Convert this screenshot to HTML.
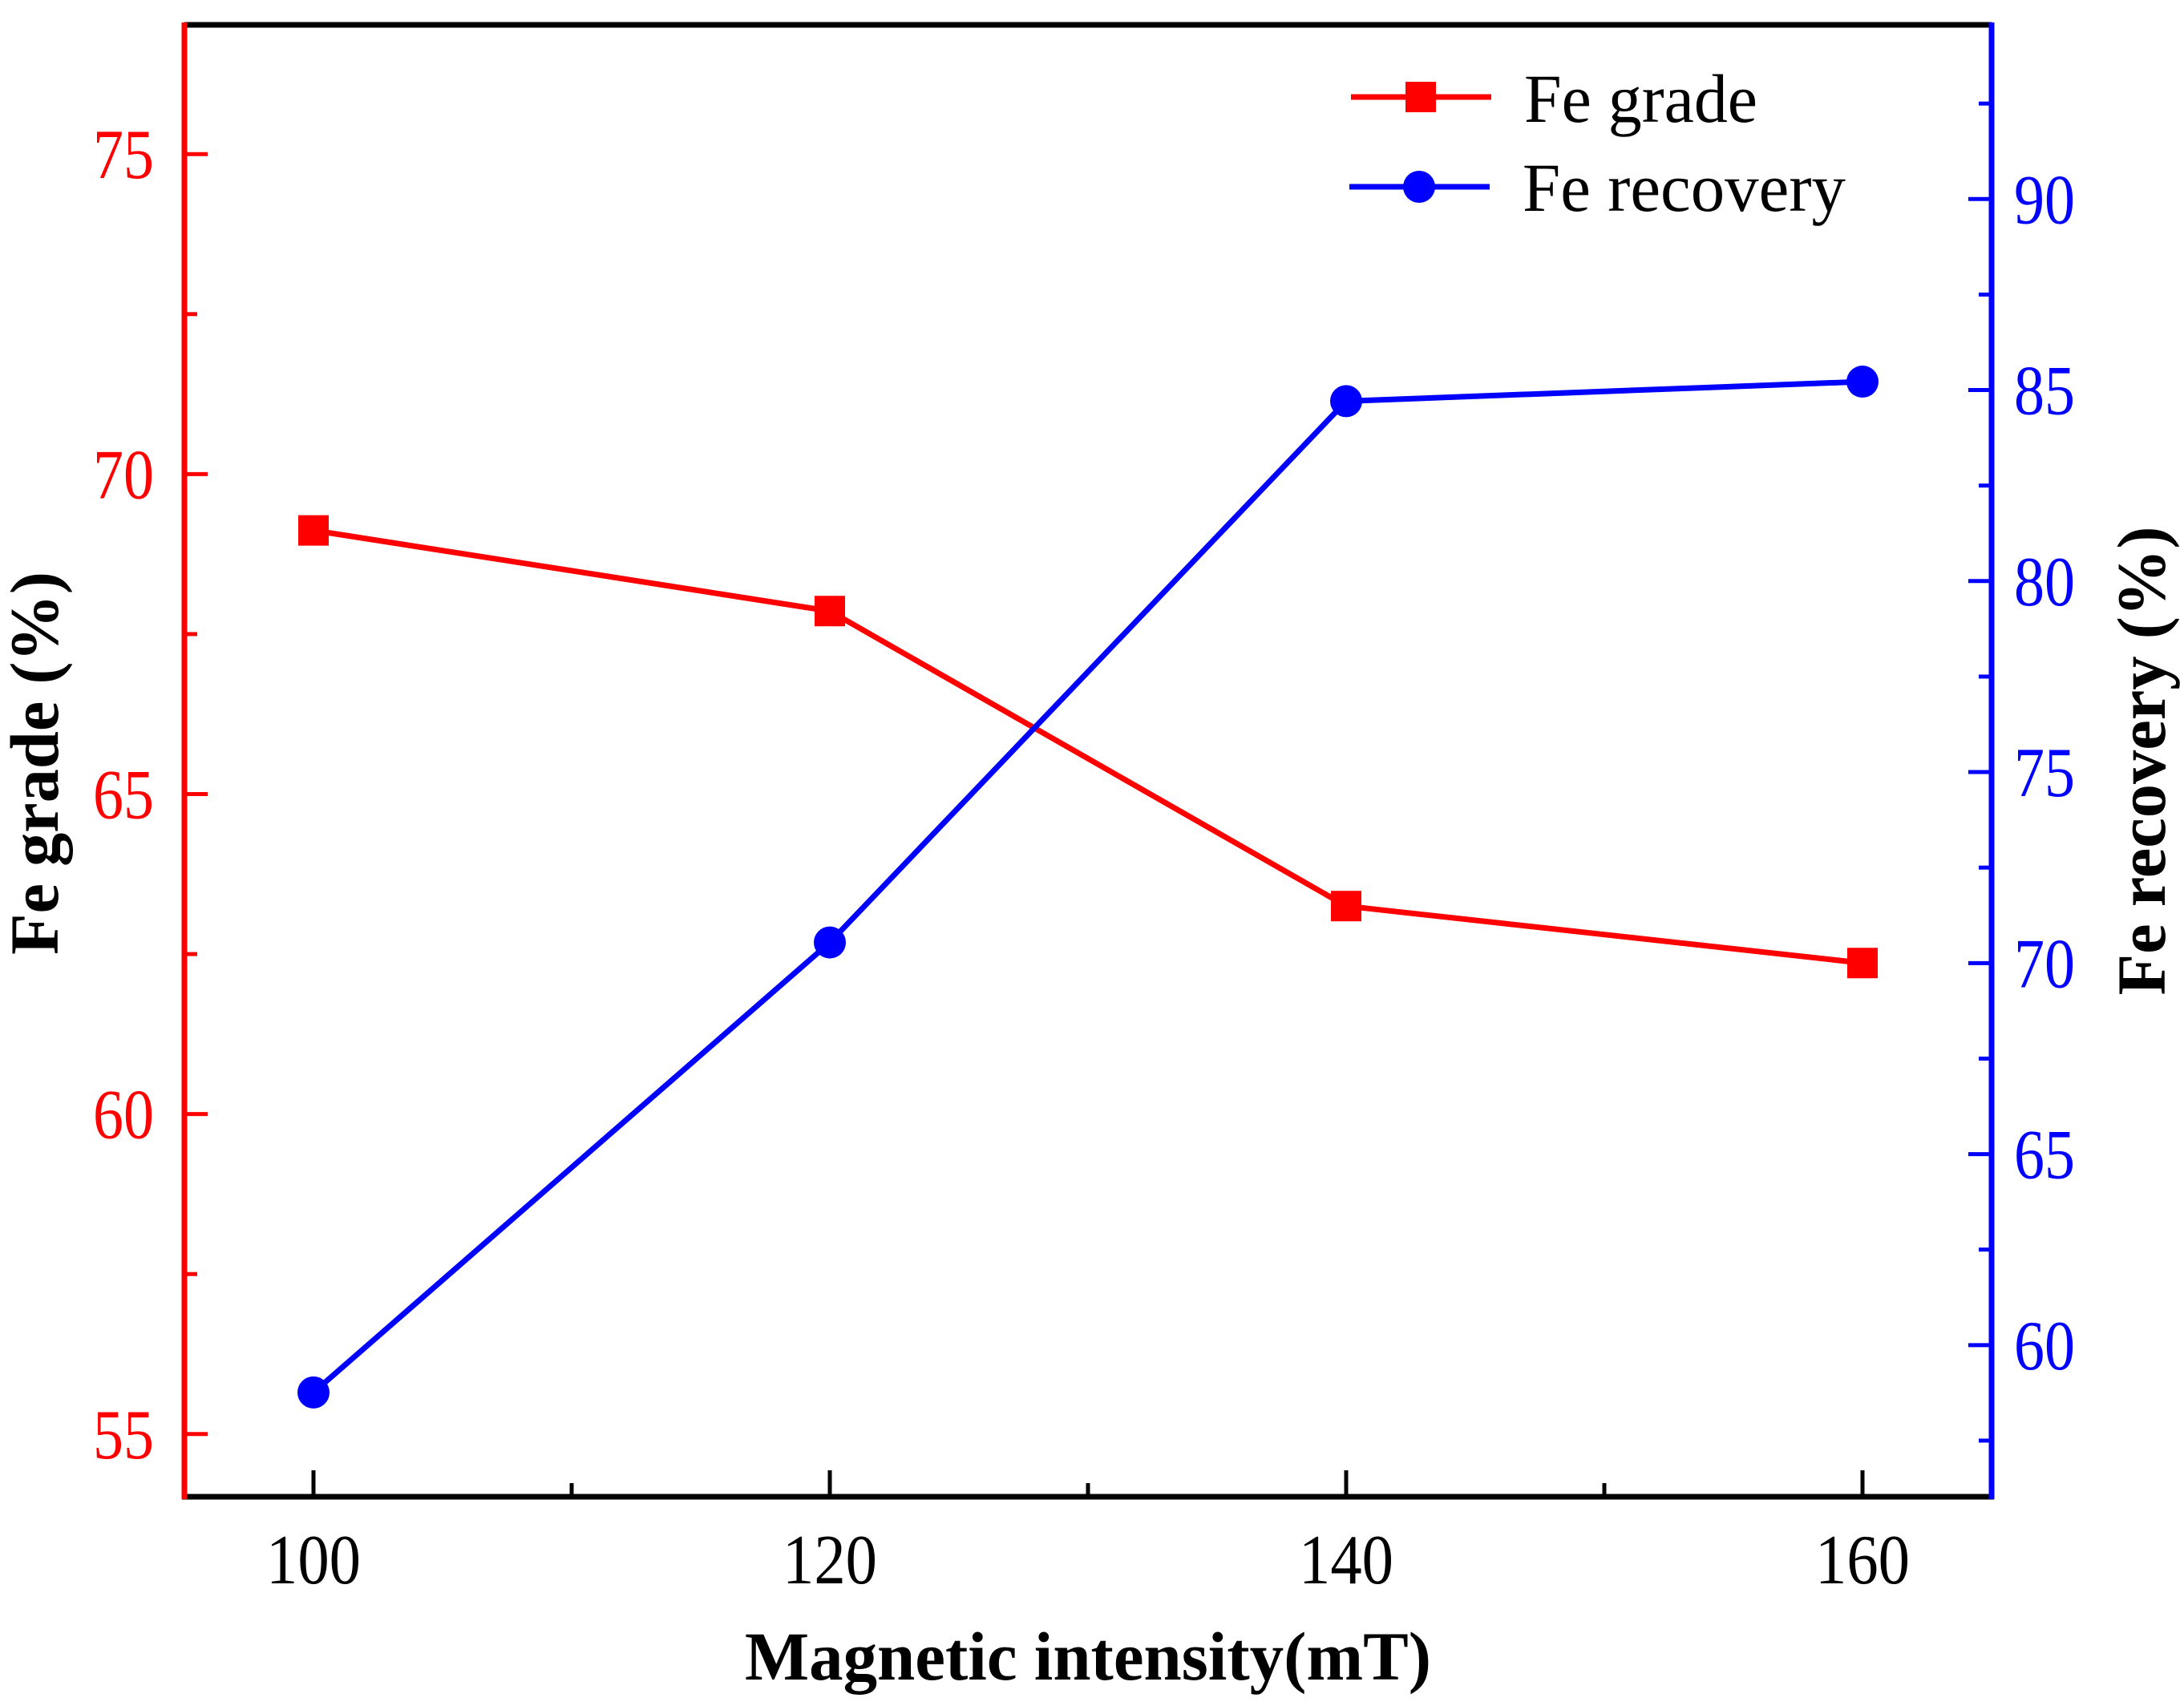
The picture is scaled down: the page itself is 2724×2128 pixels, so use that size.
<!DOCTYPE html>
<html><head><meta charset="utf-8"><style>html,body{margin:0;padding:0;background:#fff}svg{display:block}</style></head>
<body>
<svg id="chart" width="2724" height="2128" viewBox="0 0 2724 2128" xmlns="http://www.w3.org/2000/svg" font-family="'Liberation Serif', serif"></svg>
<script>
const categories = [100, 120, 140, 160];
const feGrade = [69.12, 67.86, 63.25, 62.36];
const feRecovery = [58.76, 70.54, 84.71, 85.22];
const xTickLabels = [100, 120, 140, 160];
const leftTickLabels = [55, 60, 65, 70, 75];
const rightTickLabels = [60, 65, 70, 75, 80, 85, 90];

const L = 230, R = 2484, T = 31, B = 1867;
const xMin = 95, xMax = 165, lMin = 54.02, lMax = 77.02, rMin = 56.03, rMax = 94.56;
const X = v => L + (v - xMin) / (xMax - xMin) * (R - L);
const YL = v => B - (v - lMin) / (lMax - lMin) * (B - T);
const YR = v => B - (v - rMin) / (rMax - rMin) * (B - T);
const svg = document.getElementById('chart');
const NS = 'http://www.w3.org/2000/svg';
function mk(tag, attrs, parent) {
  const e = document.createElementNS(NS, tag);
  for (const k in attrs) e.setAttribute(k, attrs[k]);
  (parent || svg).appendChild(e);
  return e;
}
function line(x1, y1, x2, y2, c, w, name) {
  const e = mk('line', {x1, y1, x2, y2, stroke: c, 'stroke-width': w});
  
  
  return e;
}
function text(str, x, y, size, fill, anchor, name, extra) {
  const e = mk('text', Object.assign({x, y, 'font-size': size, fill, 'text-anchor': anchor}, extra || {}));
  e.textContent = str;
  
  
  return e;
}
// frame
line(L, T, R, T, '#000', 7, 'top-frame');
line(L - 3, B, R + 3, B, '#000', 7, 'x-axis-line');
line(L, T - 3, L, B + 3, '#f00', 7, 'left-y-axis-line');
line(R, T - 3, R, B + 3, '#00f', 7, 'right-y-axis-line');
// x ticks
xTickLabels.forEach(v => {
  line(X(v), B, X(v), B - 33, '#000', 5, 'x-major-tick');
  text(String(v), X(v), 1975, 88, '#000', 'middle', 'x-tick-label', {textLength: 118, lengthAdjust: 'spacingAndGlyphs'});
});
[110, 130, 150].forEach(v => line(X(v), B, X(v), B - 17, '#000', 5, 'x-minor-tick'));
// left ticks
leftTickLabels.forEach(v => {
  line(L, YL(v), L + 29, YL(v), '#f00', 5, 'left-major-tick');
  text(String(v), 192, YL(v) + 30, 88, '#f00', 'end', 'left-tick-label', {textLength: 76, lengthAdjust: 'spacingAndGlyphs'});
});
[57.5, 62.5, 67.5, 72.5].forEach(v => line(L, YL(v), L + 16, YL(v), '#f00', 5, 'left-minor-tick'));
// right ticks
rightTickLabels.forEach(v => {
  line(R, YR(v), R - 29, YR(v), '#00f', 5, 'right-major-tick');
  text(String(v), 2512, YR(v) + 30, 88, '#00f', 'start', 'right-tick-label', {textLength: 76, lengthAdjust: 'spacingAndGlyphs'});
});
[57.5, 62.5, 67.5, 72.5, 77.5, 82.5, 87.5, 92.5].forEach(v => line(R, YR(v), R - 16, YR(v), '#00f', 5, 'right-minor-tick'));
// titles
text('Magnetic intensity(mT)', 1357, 2095, 86, '#000', 'middle', 'x-axis-title', {'font-weight': 'bold', textLength: 856, lengthAdjust: 'spacingAndGlyphs'});
text('Fe grade (%)', 0, 0, 86, '#000', 'middle', 'left-y-axis-title', {'font-weight': 'bold', transform: 'translate(72,952) rotate(-90)', textLength: 478, lengthAdjust: 'spacingAndGlyphs'});
text('Fe recovery (%)', 0, 0, 86, '#000', 'middle', 'right-y-axis-title', {'font-weight': 'bold', transform: 'translate(2700,949) rotate(-90)', textLength: 585, lengthAdjust: 'spacingAndGlyphs'});
// series
function series(vals, Y, color, marker, name) {
  const g = mk('g', {});
  
  
  const p = mk('polyline', {points: categories.map((c, i) => X(c) + ',' + Y(vals[i])).join(' '), fill: 'none', stroke: color, 'stroke-width': 7, 'stroke-linejoin': 'round'}, g);
  
  
  categories.forEach((c, i) => {
    let m;
    if (marker === 'square') m = mk('rect', {x: X(c) - 19, y: Y(vals[i]) - 19, width: 38, height: 38, fill: color}, g);
    else m = mk('circle', {cx: X(c), cy: Y(vals[i]), r: 20, fill: color}, g);
    
    
  });
}
series(feGrade, YL, '#f00', 'square', 'fe-grade-series');
series(feRecovery, YR, '#00f', 'circle', 'fe-recovery-series');
// legend
const lg = mk('g', {});


line(1685, 121, 1860, 121, '#f00', 7, 'legend-fe-grade-line');
const ls = mk('rect', {x: 1753, y: 102, width: 38, height: 38, fill: '#f00'}, lg);


text('Fe grade', 1901, 152, 86, '#000', 'start', 'legend-fe-grade-label', {textLength: 291, lengthAdjust: 'spacingAndGlyphs'});
line(1683, 233, 1858, 233, '#00f', 7, 'legend-fe-recovery-line');
const lc = mk('circle', {cx: 1770, cy: 233, r: 20, fill: '#00f'}, lg);


text('Fe recovery', 1899, 263, 86, '#000', 'start', 'legend-fe-recovery-label', {textLength: 403, lengthAdjust: 'spacingAndGlyphs'});
</script>
</body></html>
